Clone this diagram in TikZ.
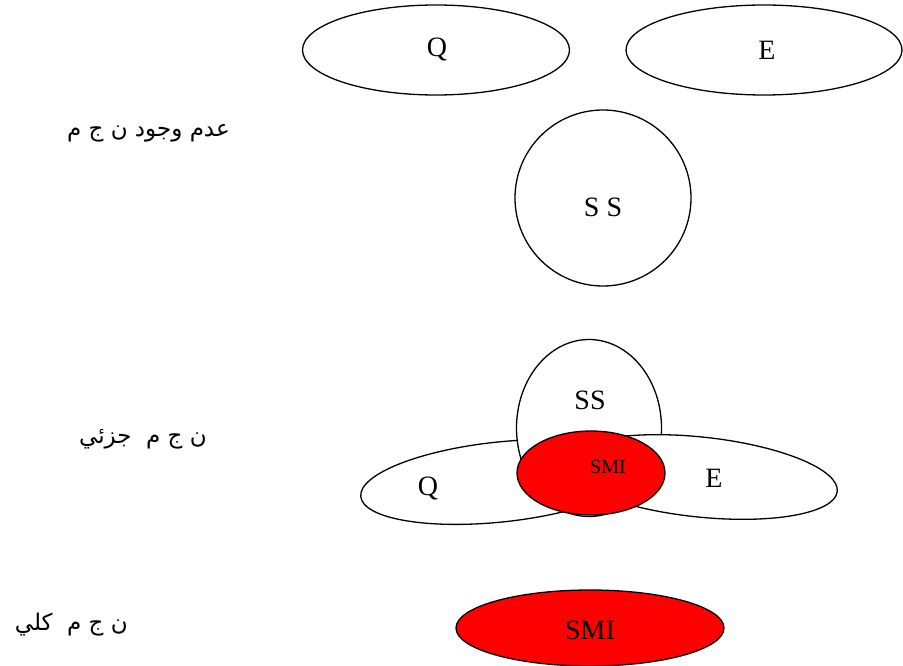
\documentclass[tikz,border=0pt]{standalone}
\usepackage{fontspec}
\setmainfont{Liberation Serif}
\newfontfamily\arabicfont[Script=Arabic]{DejaVu Sans}
\TeXXeTstate=1
\usetikzlibrary{shapes.geometric}
\definecolor{smired}{HTML}{FF0000}
\tikzset{
  setshape/.style={ellipse, draw=black, line width=1.3pt, fill=white, inner sep=0pt},
  coreshape/.style={setshape, fill=smired},
  setlab/.style={font=\fontsize{28}{30}\selectfont, inner sep=0pt},
  arlab/.style={font=\arabicfont\fontsize{23}{26}\selectfont, anchor=east, inner sep=0pt},
}
\begin{document}
\begin{tikzpicture}[x=1pt, y=-1pt]
\useasboundingbox (0,0) rectangle (903,666);
% case 1: no overlap
\node[setshape, minimum width=267, minimum height=90] (qSep) at (436,50) {};
\node[setshape, minimum width=276, minimum height=90] (eSep) at (764,50) {};
\node[setshape, minimum width=176, minimum height=176] (ssSep) at (603,198) {};
\node[setlab] at (437,50) {Q};
\node[setlab] at (767,50) {E};
\node[setlab] at (603,207) {S S};
\node[arlab] (noneLab) at (230,133) {\beginR عدم وجود ن ج م\endR};
% case 2: partial overlap
\node[setshape, minimum width=280, minimum height=80, rotate=6] (qPart) at (500,482) {};
\node[setshape, minimum width=145, minimum height=177] (ssPart) at (589,428) {};
\node[setshape, minimum width=276, minimum height=80, rotate=-6] (ePart) at (700,477) {};
\node[coreshape, minimum width=148, minimum height=84] (smiPart) at (591,473) {};
\node[setlab] at (590,400) {SS};
\node[setlab] at (428,488) {Q};
\node[setlab] at (714,478) {E};
\node[setlab, font=\fontsize{20}{22}\selectfont] at (608,467) {SMI};
\node[arlab] (partLab) at (207,439) {\beginR ن ج م \ جزئي\endR};
% case 3: full overlap
\node[coreshape, minimum width=268, minimum height=76] (smiFull) at (590,628) {};
\node[setlab] at (590,630) {SMI};
\node[arlab] (fullLab) at (128,625) {\beginR ن ج م \ كلي\endR};
\end{tikzpicture}
\end{document}
